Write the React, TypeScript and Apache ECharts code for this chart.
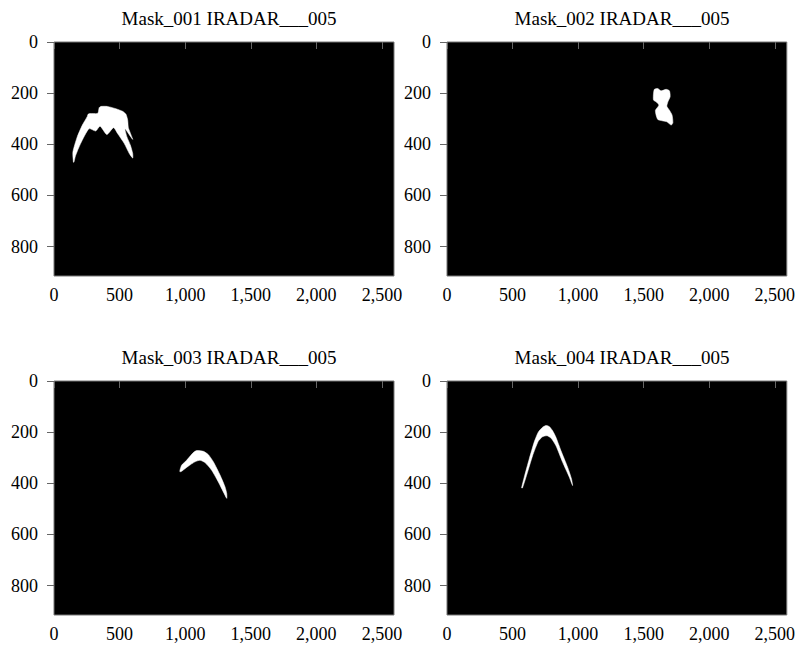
import React, { useEffect, useRef } from "react";
import * as echarts from "echarts";

// Image extent in pixels (width x height) shared by all four masks
const IMAGE_WIDTH = 2592;
const IMAGE_HEIGHT = 915;

const X_TICKS = [0, 500, 1000, 1500, 2000, 2500];
const Y_TICKS = [0, 200, 400, 600, 800];

const TITLES = [
  "Mask_001 IRADAR___005",
  "Mask_002 IRADAR___005",
  "Mask_003 IRADAR___005",
  "Mask_004 IRADAR___005",
];

// Mask outlines as [column, row] pixel coordinates
const MASK_001 = [
  [148, 470], [144, 430], [177, 371], [215, 326], [254, 291], [259, 283],
  [274, 280], [331, 280], [338, 274], [344, 257], [356, 252], [408, 252],
  [472, 261], [523, 271], [549, 283], [562, 306], [567, 335], [600, 381],
  [541, 339], [556, 371], [582, 403], [600, 436], [600, 454], [574, 436],
  [536, 397], [485, 358], [454, 335], [403, 362], [351, 329], [318, 348],
  [267, 339], [203, 397], [164, 445], [152, 470],
];

const MASK_002 = [
  [1582, 185], [1608, 182], [1633, 191], [1671, 185], [1697, 191],
  [1702, 214], [1685, 234], [1677, 251], [1697, 267], [1717, 286],
  [1723, 316], [1710, 325], [1677, 312], [1641, 308], [1608, 303],
  [1595, 286], [1590, 267], [1616, 247], [1595, 234], [1575, 227],
  [1575, 201],
];

const MASK_003 = [
  [960, 349], [973, 329], [1011, 310], [1062, 280], [1088, 272],
  [1139, 275], [1177, 288], [1215, 316], [1266, 368], [1304, 414],
  [1317, 440], [1317, 459], [1291, 434], [1253, 395], [1202, 349],
  [1151, 319], [1113, 310], [1075, 316], [1024, 333], [973, 353],
  [960, 355],
];

const MASK_004 = [
  [569, 418], [589, 376], [627, 305], [665, 239], [696, 200], [729, 181],
  [754, 174], [780, 178], [805, 194], [831, 220], [869, 272], [920, 337],
  [950, 383], [958, 409], [933, 376], [882, 318], [831, 253], [793, 223],
  [763, 214], [729, 218], [696, 236], [653, 292], [610, 364], [576, 418],
];

const MASKS = [MASK_001, MASK_002, MASK_003, MASK_004];

const FONT = "'Liberation Serif', 'DejaVu Serif', serif";

// Panel placement on the page
const PANELS = [
  { left: 54, top: 42, titleTop: 4 },
  { left: 447, top: 42, titleTop: 4 },
  { left: 54, top: 381, titleTop: 343 },
  { left: 447, top: 381, titleTop: 343 },
];
const PANEL_W = 340;
const PANEL_H = 234;

const fmt = (v: number) => v.toLocaleString("en-US");

export default function App() {
  const ref = useRef<HTMLDivElement>(null);

  useEffect(() => {
    if (!ref.current) return;
    const chart = echarts.init(ref.current, null, { renderer: "svg" });

    const grid = PANELS.map((p) => ({
      left: p.left,
      top: p.top,
      width: PANEL_W,
      height: PANEL_H,
      show: true,
      backgroundColor: "#000",
      borderColor: "#777",
      borderWidth: 1,
    }));

    const title = PANELS.map((p, i) => ({
      text: TITLES[i],
      left: p.left + PANEL_W / 2,
      top: p.titleTop,
      textAlign: "center",
      textStyle: { fontFamily: FONT, fontSize: 19, fontWeight: "normal", color: "#000" },
    }));

    const tickStyle = { show: true, length: 7, inside: false, lineStyle: { color: "#666", width: 1 } };

    const xAxis = PANELS.map((_, i) => ({
      type: "value",
      gridIndex: i,
      min: 0,
      max: IMAGE_WIDTH,
      axisLine: { show: false },
      splitLine: { show: false },
      axisTick: { ...tickStyle, customValues: X_TICKS },
      axisLabel: {
        customValues: X_TICKS,
        formatter: (v: number) => fmt(v),
        fontFamily: FONT,
        fontSize: 18,
        color: "#000",
        margin: 10,
      },
    }));

    const yAxis = PANELS.map((_, i) => ({
      type: "value",
      gridIndex: i,
      min: 0,
      max: IMAGE_HEIGHT,
      inverse: true,
      axisLine: { show: false },
      splitLine: { show: false },
      axisTick: { ...tickStyle, customValues: Y_TICKS },
      axisLabel: {
        customValues: Y_TICKS,
        formatter: (v: number) => fmt(v),
        fontFamily: FONT,
        fontSize: 18,
        color: "#000",
        margin: 16,
      },
    }));

    const series = MASKS.map((mask, i) => ({
      type: "custom",
      coordinateSystem: "cartesian2d",
      xAxisIndex: i,
      yAxisIndex: i,
      clip: true,
      silent: true,
      data: mask,
      renderItem: (params: any, api: any) => {
        if (params.dataIndex !== 0) return null;
        const points = mask.map((pt) => api.coord(pt));
        return {
          type: "polygon",
          shape: { points, smooth: 0.2 },
          style: { fill: "#fff", stroke: "#fff", lineWidth: 0.5 },
        };
      },
    }));

    chart.setOption({
      animation: false,
      backgroundColor: "#fff",
      title,
      grid,
      xAxis,
      yAxis,
      series,
    });

    return () => chart.dispose();
  }, []);

  return (
    <div
      ref={ref}
      style={{ position: "fixed", left: 0, top: 0, width: 798, height: 648 }}
    />
  );
}
